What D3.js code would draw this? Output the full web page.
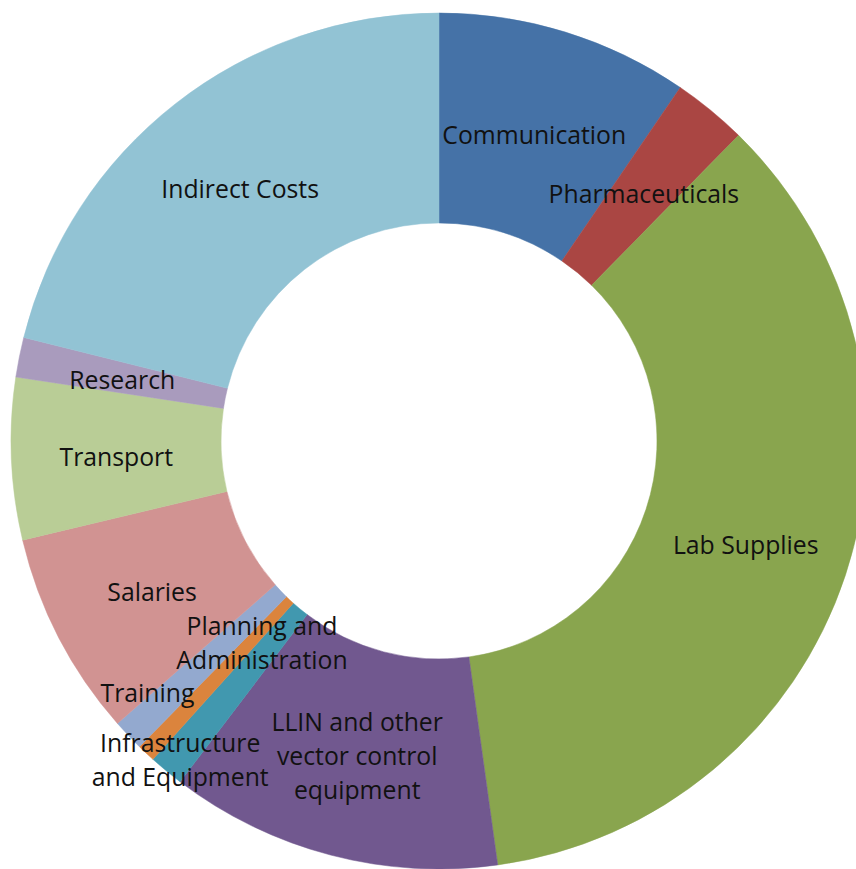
<!DOCTYPE html>
<html>
<head>
<meta charset="utf-8">
<script src="https://cdn.jsdelivr.net/npm/d3@7"></script>
<style>
  html, body { margin: 0; padding: 0; background: #fff; }
  svg { display: block; }
</style>
</head>
<body>
<svg id="chart" width="856" height="869"></svg>
<script>
// ---- data (percent share of budget) ----
const categories = [
  "Communication",
  "Pharmaceuticals",
  "Lab Supplies",
  "LLIN and other vector control equipment",
  "Infrastructure and Equipment",
  "Planning and Administration",
  "Training",
  "Salaries",
  "Transport",
  "Research",
  "Indirect Costs"
];
const values = [9.53, 2.81, 35.47, 12.53, 1.31, 0.69, 1.19, 7.75, 6.11, 1.50, 21.11];
const colors = ["#4572A7", "#AA4643", "#89A54E", "#71588F", "#4198AF", "#DB843D",
                "#93A9CF", "#D19392", "#B9CD96", "#A99BBD", "#92C3D4"];
// label line breaks as shown in the chart
const labelLines = [
  ["Communication"],
  ["Pharmaceuticals"],
  ["Lab Supplies"],
  ["LLIN and other", "vector control", "equipment"],
  ["Infrastructure", "and Equipment"],
  ["Planning and", "Administration"],
  ["Training"],
  ["Salaries"],
  ["Transport"],
  ["Research"],
  ["Indirect Costs"]
];

// ---- layout ----
const cx = 439, cy = 441, outerR = 428, innerR = 218;
// labels moved off the centroid for crowded slices
const labelShift = {4: [-53, 67], 5: [44, -36], 6: [-57, 27]};

const svg = d3.select("#chart");
const g = svg.append("g").attr("transform", `translate(${cx},${cy})`);

const data = categories.map((c, i) => ({name: c, value: values[i], i}));
const pie = d3.pie().value(d => d.value).sort(null);
const arc = d3.arc().innerRadius(innerR).outerRadius(outerR);
const arcs = pie(data);

const color = d3.scaleOrdinal().domain(categories).range(colors);

g.selectAll("path.slice").data(arcs).enter().append("path")
  .attr("class", "slice")
  .attr("d", arc)
  .attr("fill", d => color(d.data.name))
  .attr("stroke", d => color(d.data.name))
  .attr("stroke-width", 0.5);

// calibrate font size so that "Communication" is ~184px wide
const fontFamily = "'Open Sans', 'DejaVu Sans', sans-serif";
const probe = svg.append("text").attr("font-family", fontFamily).attr("font-size", 100).text("Communication");
const w = probe.node().getComputedTextLength();
probe.remove();
const fontSize = 100 * 184 / w;
const lineH = 34;

const labels = g.selectAll("text.label").data(arcs).enter().append("text")
  .attr("class", "label")
  .attr("font-family", fontFamily)
  .attr("font-size", fontSize)
  .attr("fill", "#111")
  .attr("text-anchor", "middle")
  .attr("transform", d => {
    const c = arc.centroid(d);
    const s = labelShift[d.data.i] || [0, 0];
    return `translate(${c[0] + s[0]},${c[1] + s[1] + 3})`;
  });

labels.each(function(d) {
  const lines = labelLines[d.data.i];
  const n = lines.length;
  const t = d3.select(this);
  lines.forEach((ln, k) => {
    t.append("tspan")
      .attr("x", 0)
      .attr("y", (k - (n - 1) / 2) * lineH)
      .attr("dy", "0.35em")
      .text(ln);
  });
});
</script>
</body>
</html>
